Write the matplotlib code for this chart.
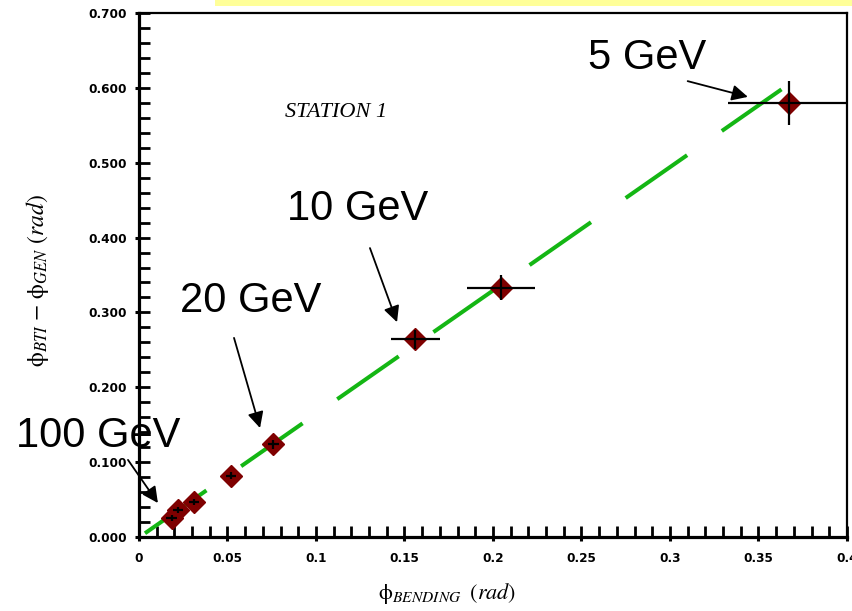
import matplotlib.pyplot as plt
from matplotlib.patches import Rectangle
from matplotlib.ticker import MultipleLocator, FormatStrFormatter, FuncFormatter

plt.rcParams['mathtext.fontset'] = 'stix'

# measured bending angle vs. BTI - GEN angle difference
phi_bending = [0.0185, 0.022, 0.031, 0.052, 0.076, 0.156, 0.2045, 0.367]
phi_diff = [0.026, 0.036, 0.047, 0.082, 0.124, 0.264, 0.333, 0.580]
err_bending = [0.003, 0.003, 0.003, 0.003, 0.0033, 0.0138, 0.0194, 0.034]
err_diff = [0.004, 0.004, 0.004, 0.005, 0.006, 0.013, 0.0167, 0.029]

# straight-line fit end points
fit_x = [0.0034, 0.363]
fit_y = [0.005, 0.598]

# energy labels: text anchor, arrow tail, arrow head (data units)
energy_labels = ['5 GeV', '10 GeV', '20 GeV', '100 GeV']
label_xy = [(0.2537, 0.625), (0.0836, 0.4235), (0.0232, 0.301), (-0.0695, 0.120)]
arrow_tail = [(0.310, 0.609), (0.1305, 0.386), (0.0537, 0.266), (-0.0062, 0.103)]
arrow_head = [(0.344, 0.588), (0.1458, 0.287), (0.0684, 0.1456), (0.0107, 0.0454)]

fig = plt.figure(figsize=(8.52, 6.11), dpi=100)
ax = fig.add_axes([0.1631, 0.1211, 0.8310, 0.8576])

fig.add_artist(Rectangle((0.2523, 0.990), 0.75, 0.012, transform=fig.transFigure,
                         facecolor='#ffff99', edgecolor='none'))

line, = ax.plot(fit_x, fit_y, color='#14b614', linewidth=2.9, zorder=2,
                solid_capstyle='butt', dash_capstyle='butt')
line.set_dashes((18.6, 10.5))

ax.plot(phi_bending, phi_diff, linestyle='None', marker='D', markersize=10.8,
        color='#7f0000', markeredgecolor='#7f0000', zorder=3)
ax.errorbar(phi_bending, phi_diff, xerr=err_bending, yerr=err_diff, fmt='none',
            ecolor='black', elinewidth=1.6, capsize=0, zorder=4)

for text, xy, tail, head in zip(energy_labels, label_xy, arrow_tail, arrow_head):
    ax.text(xy[0], xy[1], text, fontsize=30, family='Liberation Sans',
            ha='left', va='baseline', clip_on=False, zorder=5)
    ax.annotate('', xy=head, xytext=tail, annotation_clip=False,
                arrowprops=dict(arrowstyle='-|>', color='black', lw=1.3,
                                mutation_scale=24, shrinkA=0, shrinkB=0))

ax.text(0.0825, 0.5615, 'STATION 1', fontsize=16, family='Liberation Serif',
        style='italic', ha='left', va='baseline')

ax.set_xlim(0, 0.4)
ax.set_ylim(0, 0.7)

ax.xaxis.set_major_locator(MultipleLocator(0.05))
ax.xaxis.set_minor_locator(MultipleLocator(0.01))
ax.yaxis.set_major_locator(MultipleLocator(0.1))
ax.yaxis.set_minor_locator(MultipleLocator(0.02))
ax.xaxis.remove_overlapping_locs = False
ax.yaxis.remove_overlapping_locs = False
ax.xaxis.set_major_formatter(FuncFormatter(lambda v, p: '%g' % round(v, 3)))
ax.yaxis.set_major_formatter(FormatStrFormatter('%.3f'))

ax.tick_params(which='major', direction='out', length=3, width=2.2, top=False, right=False)
ax.tick_params(axis='y', which='major', pad=5.5)
ax.tick_params(axis='x', which='major', pad=8)
ax.tick_params(which='minor', direction='in', length=8, width=2.0, top=False, right=False)
for lab in ax.get_xticklabels() + ax.get_yticklabels():
    lab.set_fontfamily('DejaVu Sans')
    lab.set_fontweight('bold')
    lab.set_fontsize(8.7)

for side in ['left', 'bottom']:
    ax.spines[side].set_linewidth(2.3)
for side in ['top', 'right']:
    ax.spines[side].set_linewidth(1.6)

ax.set_xlabel(r'$\mathrm{\phi}_{BENDING}\;\;(rad)$', fontsize=16, va='center')
ax.xaxis.set_label_coords(0.435, -0.107)
ax.set_ylabel(r'$\mathrm{\phi}_{BTI}\ \mathrm{-}\ \mathrm{\phi}_{GEN}\ (rad)$', fontsize=17,
              va='center')
ax.yaxis.set_label_coords(-0.143, 0.49)

fig.savefig('out.png', dpi=100)
